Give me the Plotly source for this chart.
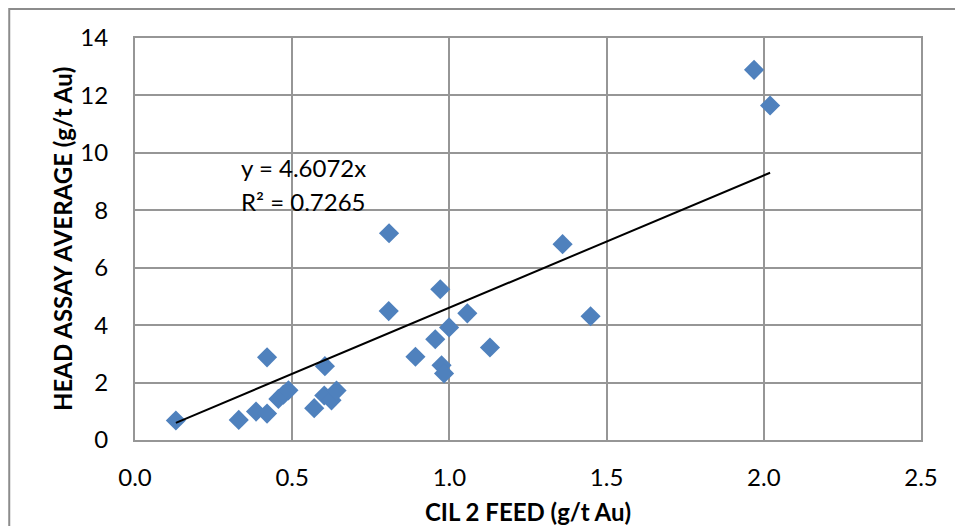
import plotly.graph_objects as go

# Data
cil2_feed = [0.13, 0.33, 0.385, 0.42, 0.42, 0.456, 0.472, 0.488, 0.57, 0.602, 0.604,
             0.625, 0.641, 0.807, 0.808, 0.892, 0.955, 0.971, 0.975, 0.983, 0.999,
             1.057, 1.129, 1.36, 1.449, 1.969, 2.02]
head_assay = [0.68, 0.70, 0.99, 0.92, 2.88, 1.43, 1.58, 1.73, 1.11, 1.55, 2.57,
              1.38, 1.72, 4.49, 7.20, 2.90, 3.51, 5.25, 2.60, 2.32, 3.92,
              4.41, 3.22, 6.82, 4.31, 12.89, 11.65]
slope = 4.6072
r_squared = 0.7265
x_ticks = [0.0, 0.5, 1.0, 1.5, 2.0, 2.5]
y_ticks = [0, 2, 4, 6, 8, 10, 12, 14]

FONT = "Lato"
GRID = "#969696"

x_min, x_max = min(cil2_feed), max(cil2_feed)

fig = go.Figure()
fig.add_trace(go.Scatter(
    x=cil2_feed, y=head_assay, mode="markers",
    marker=dict(symbol="diamond", size=15.5, color="#4F81BD",
                line=dict(width=0)),
    showlegend=False, hoverinfo="x+y"))
fig.add_trace(go.Scatter(
    x=[x_min, x_max], y=[slope * x_min, slope * x_max], mode="lines",
    line=dict(color="black", width=2), showlegend=False, hoverinfo="skip"))

fig.add_annotation(x=0.33, y=9.5, xref="x", yref="y", xanchor="left",
                   text=f"y = {slope}x", showarrow=False,
                   font=dict(family=FONT, size=24, color="black"))
fig.add_annotation(x=0.33, y=8.29, xref="x", yref="y", xanchor="left",
                   text=f"R² = {r_squared}", showarrow=False,
                   font=dict(family=FONT, size=24, color="black"))

# y-axis title placed as a rotated annotation for exact placement
fig.add_annotation(x=-0.0929, y=0.5, xref="paper", yref="paper",
                   xanchor="center", yanchor="middle", textangle=-90,
                   text="<b>HEAD ASSAY AVERAGE (g/t Au)</b>", showarrow=False,
                   font=dict(family=FONT, size=24, color="black"))

# outer chart border (extends beyond the visible window on right/bottom)
fig.add_shape(type="rect", xref="paper", yref="paper",
              x0=-0.160, x1=1.2, y0=-0.3, y1=1.072,
              line=dict(color="#8c8c8c", width=2), layer="below")

fig.update_layout(
    width=955, height=526,
    margin=dict(l=135, r=34, t=38, b=86),
    paper_bgcolor="white", plot_bgcolor="white",
    font=dict(family=FONT, size=24, color="black"),
    xaxis=dict(range=[0, 2.5], tickvals=x_ticks, tickformat=".1f",
               showgrid=True, gridcolor=GRID, gridwidth=2,
               showline=True, linecolor=GRID, linewidth=2, mirror=True,
               zeroline=False, ticks="", ticklabelstandoff=15, automargin=False,
               title=dict(text="<b>CIL 2 FEED (g/t Au)</b>", standoff=20,
                          font=dict(family=FONT, size=24))),
    yaxis=dict(range=[0, 14], tickvals=y_ticks,
               showgrid=True, gridcolor=GRID, gridwidth=2,
               showline=True, linecolor=GRID, linewidth=2, mirror=True,
               zeroline=False, ticks="", ticklabelstandoff=20, automargin=False),
)

fig.write_html("out.html", config={"displayModeBar": False},
               post_script="document.body.style.margin='0';document.body.style.overflow='hidden';")
